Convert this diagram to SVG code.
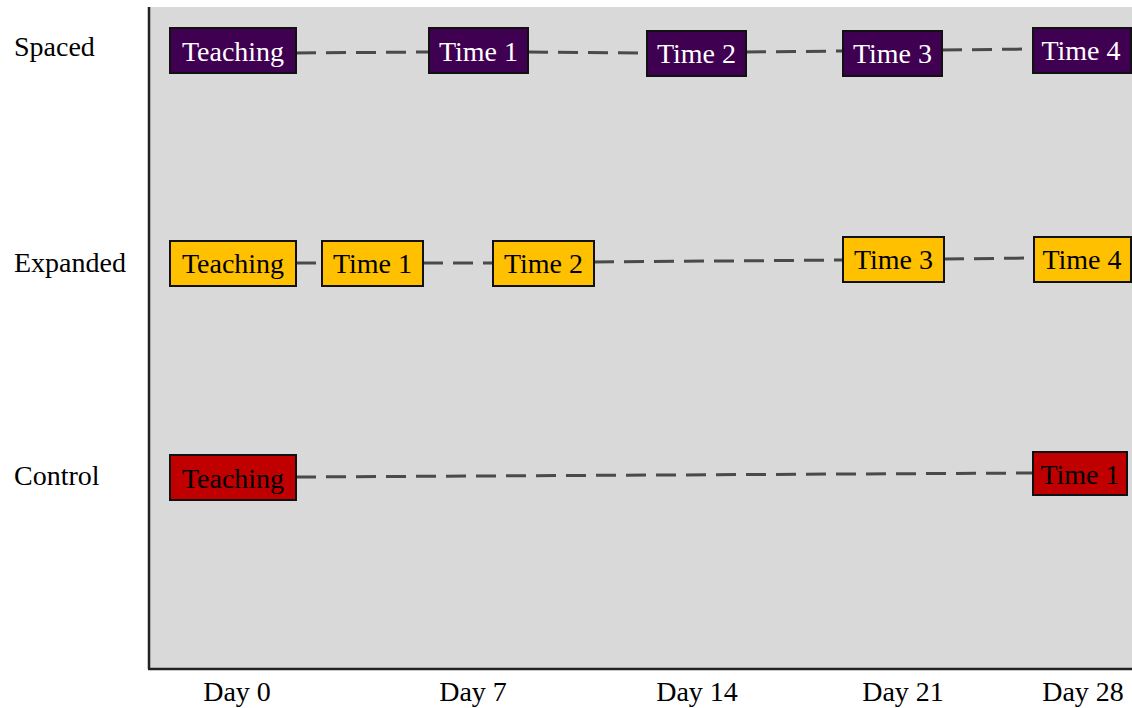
<svg xmlns="http://www.w3.org/2000/svg" width="1132" height="708" viewBox="0 0 1132 708">
<style>
text{font-family:"Liberation Serif","Times New Roman",serif;font-size:28px}
.lbl{fill:#000}
.box{stroke:#111;stroke-width:2}
.sp{fill:#3f0052}
.ex{fill:#ffc000}
.ct{fill:#c00000}
.tw{fill:#fff;text-anchor:middle}
.tb{fill:#000;text-anchor:middle}
.day{fill:#000;text-anchor:middle}
.conn line{stroke:#4a4a4a;stroke-width:3;stroke-dasharray:20 10;fill:none}
</style>
<rect x="0" y="0" width="1132" height="708" fill="#fff"/>
<rect x="149" y="7" width="983" height="662" fill="#d9d9d9"/>
<g id="axes" stroke="#222" stroke-width="2.5">
<line x1="149" y1="7" x2="149" y2="669"/>
<line x1="148" y1="669" x2="1132" y2="669"/>
</g>
<g id="row-labels">
<text class="lbl" x="14" y="56">Spaced</text>
<text class="lbl" x="14" y="272">Expanded</text>
<text class="lbl" x="14" y="485">Control</text>
</g>
<g id="day-labels">
<text class="day" x="237" y="701">Day 0</text>
<text class="day" x="473" y="701">Day 7</text>
<text class="day" x="697" y="701">Day 14</text>
<text class="day" x="903" y="701">Day 21</text>
<text class="day" x="1083" y="701">Day 28</text>
</g>
<g class="conn" id="connectors">
<line x1="296" y1="53" x2="429" y2="52"/>
<line x1="528" y1="52" x2="647" y2="53"/>
<line x1="746" y1="52" x2="843" y2="51"/>
<line x1="942" y1="50" x2="1033" y2="49"/>
<line x1="296" y1="263" x2="322" y2="263"/>
<line x1="423" y1="263" x2="493" y2="263"/>
<line x1="594" y1="262" x2="843" y2="260"/>
<line x1="944" y1="259" x2="1034" y2="258"/>
<line x1="296" y1="477" x2="1033" y2="473"/>
</g>
<g id="spaced-teaching"><rect class="box sp" x="170" y="28" width="126" height="45"/><text class="tw" x="233" y="61">Teaching</text></g>
<g id="spaced-time1"><rect class="box sp" x="429" y="28" width="99" height="45"/><text class="tw" x="478.5" y="61">Time 1</text></g>
<g id="spaced-time2"><rect class="box sp" x="647" y="31" width="99" height="45"/><text class="tw" x="696.5" y="63">Time 2</text></g>
<g id="spaced-time3"><rect class="box sp" x="843" y="31" width="99" height="45"/><text class="tw" x="892.5" y="63">Time 3</text></g>
<g id="spaced-time4"><rect class="box sp" x="1033" y="28" width="98" height="45"/><text class="tw" x="1081" y="60">Time 4</text></g>
<g id="expanded-teaching"><rect class="box ex" x="170" y="241" width="126" height="45"/><text class="tb" x="233" y="273">Teaching</text></g>
<g id="expanded-time1"><rect class="box ex" x="322" y="241" width="101" height="45"/><text class="tb" x="372.5" y="273">Time 1</text></g>
<g id="expanded-time2"><rect class="box ex" x="493" y="241" width="101" height="45"/><text class="tb" x="543.5" y="273">Time 2</text></g>
<g id="expanded-time3"><rect class="box ex" x="843" y="237" width="101" height="45"/><text class="tb" x="893.5" y="269">Time 3</text></g>
<g id="expanded-time4"><rect class="box ex" x="1034" y="237" width="97" height="45"/><text class="tb" x="1082" y="269">Time 4</text></g>
<g id="control-teaching"><rect class="box ct" x="170" y="455" width="126" height="45"/><text class="tb" x="233" y="488">Teaching</text></g>
<g id="control-time1"><rect class="box ct" x="1033" y="452" width="94" height="43"/><text class="tb" x="1080" y="484">Time 1</text></g>
</svg>
